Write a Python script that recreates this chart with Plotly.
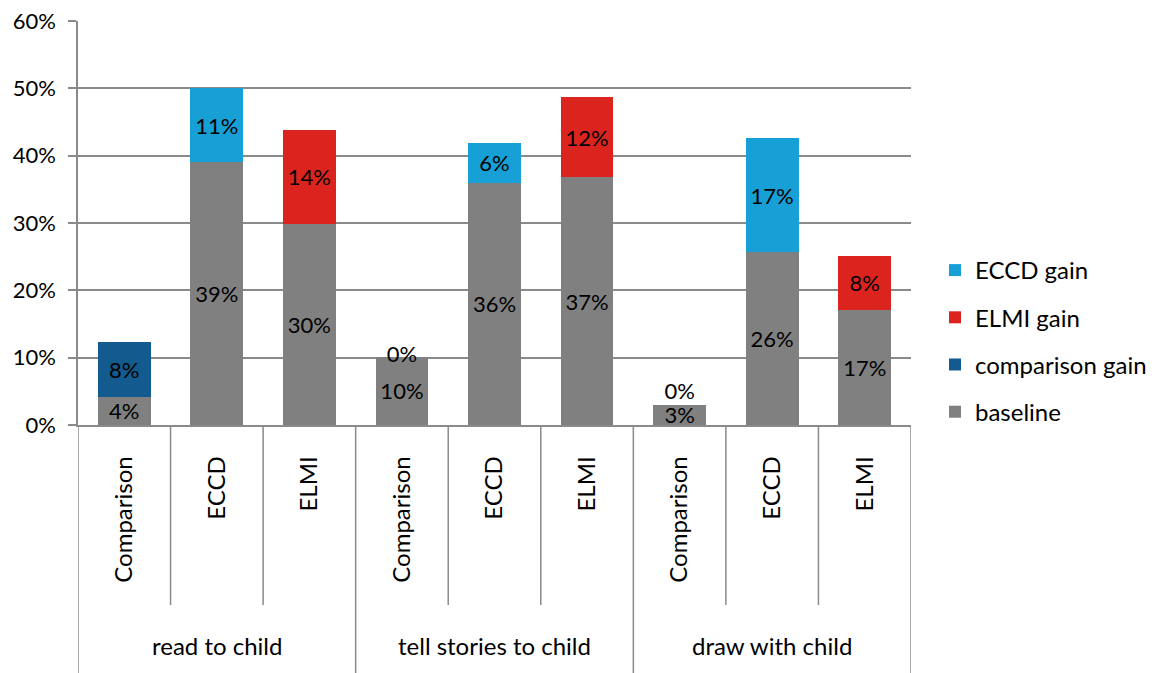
import plotly.graph_objects as go

groups = ["read to child", "tell stories to child", "draw with child"]
programs = ["Comparison", "ECCD", "ELMI"]

baseline = [4.2, 39.1, 29.9, 10.1, 36.0, 36.8, 3.0, 25.7, 17.1]
comparison_gain = [8.1, None, None, 0.0, None, None, 0.0, None, None]
elmi_gain = [None, None, 13.9, None, None, 11.9, None, None, 8.0]
eccd_gain = [None, 10.9, None, None, 5.9, None, None, 16.9, None]

series = [
    ("baseline", baseline, "#808080"),
    ("comparison gain", comparison_gain, "#135A8E"),
    ("ELMI gain", elmi_gain, "#DC241F"),
    ("ECCD gain", eccd_gain, "#16A0D6"),
]

FONT = "Lato"
NUM_SIZE = 22
TXT_SIZE = 24
GRID = "#8a8a8a"

n = len(groups) * len(programs)
xs = list(range(n))
ticktext = [p for g in groups for p in programs]

fig = go.Figure()
for si, (name, vals, color) in enumerate(series):
    texts = [("" if (v is None or v == 0) else f"{round(v)}%") for v in vals]
    fig.add_trace(go.Bar(
        x=xs, y=vals, name=name, marker=dict(color=color, line=dict(width=0)),
        text=texts, textposition="inside", insidetextanchor="middle",
        textfont=dict(family=FONT, size=NUM_SIZE, color="black"),
        legendgroup=name, legendrank=1000 - si, hoverinfo="skip",
    ))

# zero-gain labels for comparison bars
zx, zy, zt, zp = [], [], [], []
for i, v in enumerate(comparison_gain):
    if v == 0:
        zx.append(i)
        zy.append(baseline[i] + v)
        zt.append(f"{round(v)}%")
        zp.append("middle center" if baseline[i] > 5 else "top center")
fig.add_trace(go.Scatter(
    x=zx, y=zy, mode="text", text=zt, textposition=zp,
    textfont=dict(family=FONT, size=NUM_SIZE, color="black"),
    showlegend=False, hoverinfo="skip",
))

# divider lines below the axis
shapes = []
for k in range(n + 1):
    xb = k - 0.5
    is_group = (k % len(programs) == 0)
    shapes.append(dict(type="line", xref="x", yref="paper", x0=xb, x1=xb,
                       y0=0, y1=-0.614 if is_group else -0.4455,
                       line=dict(color=GRID, width=1.5)))

annotations = []
for gi, g in enumerate(groups):
    annotations.append(dict(x=gi * len(programs) + 1, y=-0.547, xref="x", yref="paper",
                            text=g, showarrow=False, yanchor="middle",
                            font=dict(family=FONT, size=TXT_SIZE, color="black")))

fig.update_layout(
    width=1152, height=673,
    margin=dict(l=78, r=241, t=21, b=248, autoexpand=False),
    barmode="stack", bargap=0.43,
    plot_bgcolor="white", paper_bgcolor="white",
    font=dict(family=FONT, color="black"),
    uniformtext=dict(minsize=NUM_SIZE, mode="show"),
    shapes=shapes, annotations=annotations,
    legend=dict(xref="container", yref="container",
                x=935 / 1152, xanchor="left", y=1 - 341 / 673, yanchor="middle",
                traceorder="grouped", tracegroupgap=13,
                font=dict(family=FONT, size=TXT_SIZE, color="black"),
                itemwidth=30, bgcolor="rgba(0,0,0,0)"),
    showlegend=True,
)
fig.update_xaxes(
    range=[-0.5, n - 0.5], tickmode="array", tickvals=xs, ticktext=ticktext,
    tickangle=-90, ticks="", ticklabelstandoff=20, automargin=False,
    tickfont=dict(family=FONT, size=TXT_SIZE, color="black"),
    showgrid=False, showline=True, linecolor=GRID, linewidth=1.5, zeroline=False,
)
fig.update_yaxes(
    range=[0, 60], dtick=10, ticksuffix="%", automargin=False,
    showgrid=True, gridcolor=GRID, gridwidth=1.5,
    ticks="outside", ticklen=8, tickcolor=GRID, tickwidth=1.5,
    showline=True, linecolor=GRID, linewidth=1.5, zeroline=False,
    tickfont=dict(family=FONT, size=NUM_SIZE, color="black"),
    ticklabelstandoff=8,
)

fig.write_html("out.html")
